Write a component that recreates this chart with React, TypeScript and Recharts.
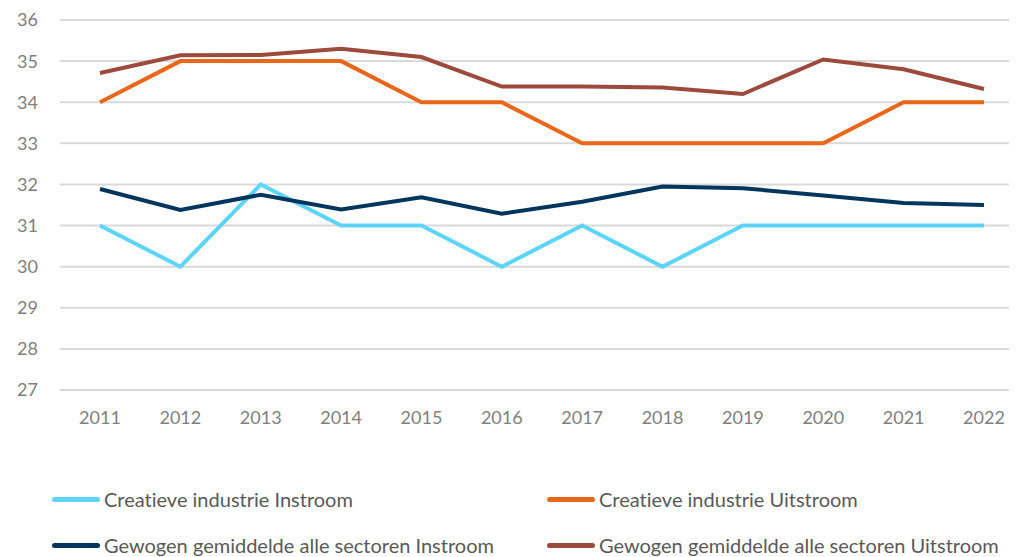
import { LineChart, Line, XAxis, YAxis, CartesianGrid } from "recharts";

const years = ["2011", "2012", "2013", "2014", "2015", "2016", "2017", "2018", "2019", "2020", "2021", "2022"];
const creatiefIn = [31, 30, 32, 31, 31, 30, 31, 30, 31, 31, 31, 31];
const creatiefUit = [34, 35, 35, 35, 34, 34, 33, 33, 33, 33, 34, 34];
const gemiddeldIn = [31.89, 31.38, 31.75, 31.39, 31.69, 31.29, 31.58, 31.95, 31.91, 31.73, 31.55, 31.5];
const gemiddeldUit = [34.71, 35.14, 35.15, 35.3, 35.1, 34.38, 34.38, 34.36, 34.2, 35.04, 34.8, 34.32];
const yTicks = [27, 28, 29, 30, 31, 32, 33, 34, 35, 36];

const series = [
  { key: "creatiefIn", name: "Creatieve industrie Instroom", color: "#5dd5fb" },
  { key: "creatiefUit", name: "Creatieve industrie Uitstroom", color: "#e8671a" },
  { key: "gemiddeldIn", name: "Gewogen gemiddelde alle sectoren Instroom", color: "#00365e" },
  { key: "gemiddeldUit", name: "Gewogen gemiddelde alle sectoren Uitstroom", color: "#9c4a3c" },
];

const data = years.map((year, i) => ({
  year,
  creatiefIn: creatiefIn[i],
  creatiefUit: creatiefUit[i],
  gemiddeldIn: gemiddeldIn[i],
  gemiddeldUit: gemiddeldUit[i],
}));

const font = "Lato, 'Open Sans', sans-serif";

export default function App() {
  return (
    <div
      style={{
        position: "relative",
        width: 1017,
        height: 557,
        margin: "-8px 0 0 -8px",
        overflow: "hidden",
        fontFamily: font,
        fontVariantLigatures: "none",
      }}
    >
      <LineChart width={1024} height={557} data={data} margin={{ top: 20, right: 0, left: 0, bottom: 137 }}>
        <CartesianGrid vertical={false} stroke="#d9d9d9" strokeWidth={2} />
        <XAxis
          dataKey="year"
          padding={{ left: 40, right: 40 }}
          axisLine={false}
          tickLine={false}
          tickSize={0}
          tickMargin={21}
          height={30}
          interval={0}
          tick={{ fill: "#7f7f7f", fontSize: 18, fontFamily: font }}
        />
        <YAxis
          domain={[27, 36]}
          ticks={yTicks}
          width={60}
          axisLine={false}
          tickLine={false}
          tickSize={0}
          tickMargin={22}
          interval={0}
          tick={{ fill: "#7f7f7f", fontSize: 18, fontFamily: font }}
        />
        {series.map((s) => (
          <Line
            key={s.key}
            type="linear"
            dataKey={s.key}
            name={s.name}
            stroke={s.color}
            strokeWidth={4}
            dot={false}
            activeDot={false}
            isAnimationActive={false}
          />
        ))}
      </LineChart>
      {series.map((s, i) => (
        <div
          key={s.key}
          style={{
            position: "absolute",
            left: i % 2 === 0 ? 52 : 547,
            top: i < 2 ? 486 : 532,
            display: "flex",
            alignItems: "center",
            fontSize: 20,
            lineHeight: "26px",
            color: "#595959",
            whiteSpace: "nowrap",
          }}
        >
          <span style={{ display: "inline-block", width: 48, height: 5, borderRadius: 3, background: s.color, marginRight: 4 }} />
          {s.name}
        </div>
      ))}
    </div>
  );
}
